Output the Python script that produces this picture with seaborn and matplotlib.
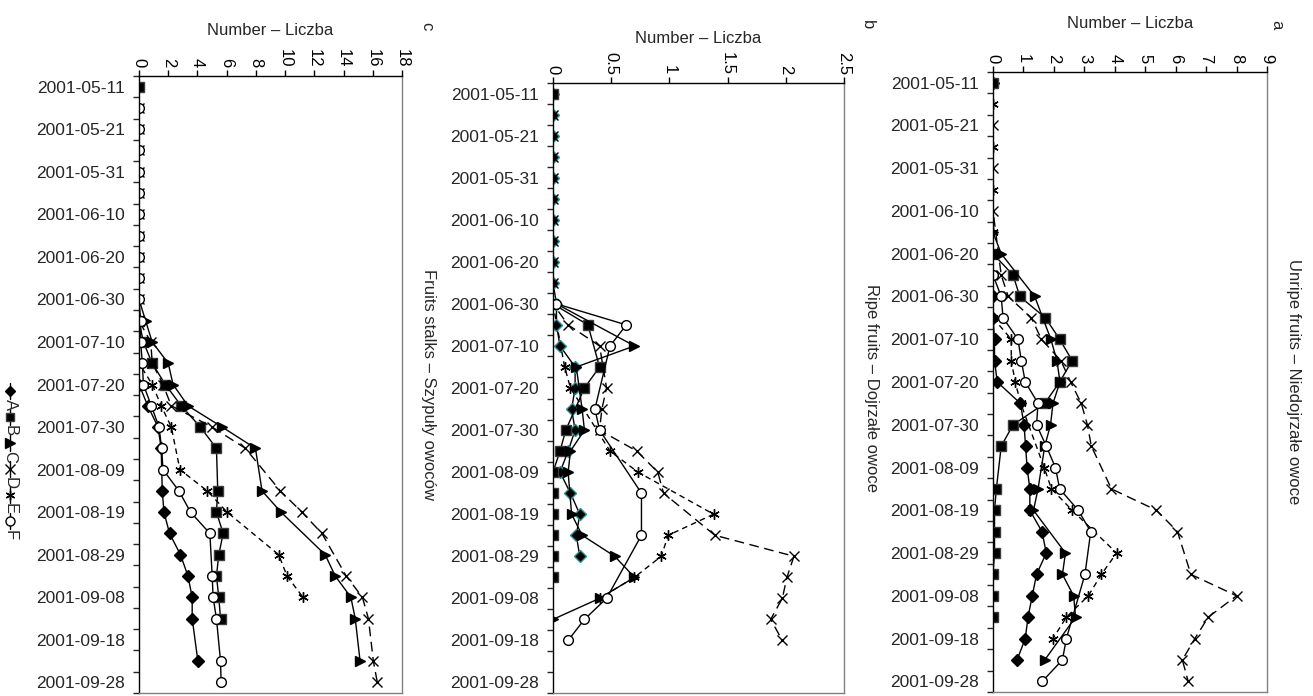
import numpy as np
import pandas as pd
import matplotlib
matplotlib.use("Agg")
import matplotlib.pyplot as plt
import seaborn as sns

nan = np.nan

# sampling dates: every 5 days
dates = pd.date_range("2001-05-11", "2001-09-28", freq="5D")
days = (dates - dates[0]).days.values
label_idx = list(range(0, len(dates), 2))
sites = ["A", "B", "C", "D", "E", "F"]

# a - unripe fruits
a_A = [0, nan, nan, nan, nan, nan, nan, nan, nan, nan, 0, 0, 0.05, 0.05, 0.14, 0.9, 1.02, 1.07, 1.12, 1.21, 1.21, 1.61, 1.75, 1.43, 1.29, 1.15, 1.06, 0.79, nan]
a_B = [0, nan, nan, nan, nan, nan, nan, nan, 0, 0.66, 0.88, 1.72, 2.19, 2.6, 2.19, 1.7, 0.66, 0.27, nan, 0.11, 0.05, 0.05, 0.05, 0, 0, 0, nan, nan, nan]
a_C = [nan, nan, nan, nan, nan, nan, nan, 0, 0.27, nan, 1.37, nan, 1.9, 2.1, 2.2, 1.97, 1.89, 1.7, nan, 1.48, 1.33, nan, 2.38, 2.28, 2.65, 2.71, nan, 1.7, nan]
a_D = [nan, nan, 0, nan, 0, nan, 0, nan, nan, 0.27, 0.5, 1.26, 1.59, 2.23, 2.55, 2.9, 3.1, 3.23, nan, 3.89, 5.37, 6.06, nan, 6.5, 8.0, 7.07, 6.63, 6.22, 6.41]
a_E = [nan, 0, nan, 0, nan, 0, nan, 0, 0, 0, nan, 0, 0.6, 0.6, 0.73, 0.91, nan, nan, 1.68, 1.92, 2.6, nan, 4.06, 3.56, 3.13, 2.41, 1.97, nan, nan]
a_F = [nan, nan, nan, nan, nan, nan, nan, nan, nan, 0, 0.27, 0.33, 0.82, 0.93, 1.06, 1.48, 1.43, 1.75, 2.05, 2.19, 2.8, 3.21, nan, 3.02, nan, nan, 2.41, 2.28, 1.62]

# b - ripe fruits
b_A = [0, 0, 0, 0, 0, 0, 0, 0, 0, 0, 0.03, 0.03, 0.06, 0.19, 0.19, 0.16, 0.19, 0.13, 0.06, 0.15, 0.23, 0.2, 0.23, nan, nan, nan, nan, nan, nan]
b_B = [0, nan, nan, nan, nan, nan, nan, nan, nan, nan, 0, 0.3, nan, 0.4, 0.27, nan, 0.11, 0.06, 0, 0, 0, 0, 0, 0, nan, nan, nan, nan, nan]
b_C = [nan, nan, nan, nan, nan, nan, nan, nan, nan, nan, 0.03, nan, 0.7, 0.2, nan, 0.25, 0.27, 0.15, 0.13, nan, 0.16, 0.25, 0.53, 0.7, 0.4, 0, nan, nan, nan]
b_D = [nan, 0, 0, 0, 0, 0, 0, 0, 0, 0, 0, 0.13, 0.4, nan, 0.46, 0.42, 0.4, 0.72, 0.9, 0.95, nan, 1.39, 2.07, 2.01, 1.97, 1.87, 1.97, nan, nan]
b_E = [nan, nan, nan, nan, nan, nan, nan, nan, nan, nan, 0, nan, nan, 0.1, 0.15, nan, nan, 0.49, 0.73, nan, 1.38, 0.99, 0.93, 0.7, 0.4, nan, nan, nan, nan]
b_F = [nan, nan, nan, nan, nan, nan, nan, nan, nan, nan, 0.03, 0.63, 0.49, nan, nan, 0.36, 0.4, nan, nan, 0.76, nan, 0.76, nan, nan, 0.46, 0.27, 0.13, nan, nan]

# c - fruit stalks
c_A = [nan, nan, nan, nan, nan, nan, nan, nan, nan, nan, nan, nan, nan, nan, 0, 0.6, 1.3, 1.52, nan, 1.59, 1.71, 2.09, 2.84, 3.35, 3.64, 3.64, nan, 4.03, nan]
c_B = [0, nan, nan, nan, nan, nan, nan, nan, nan, nan, nan, 0, 0.3, 0.9, 1.8, 2.89, 4.2, 5.3, nan, 5.39, 5.3, 5.76, 5.46, 5.3, 5.46, 5.58, nan, nan, nan]
c_C = [nan, nan, nan, nan, nan, nan, nan, nan, nan, nan, 0, 0.45, 0.9, 2.0, 2.33, 3.35, 5.69, 7.97, nan, 8.42, 9.72, nan, 12.74, 13.43, 14.5, 14.8, nan, 15.13, nan]
c_D = [nan, 0, 0, 0, 0, 0, 0, 0, 0, 0, 0, 0, 0.8, 0.91, 1.64, 2.21, 5.01, 7.28, nan, 9.67, 11.15, 12.52, nan, 14.18, 15.29, 15.7, nan, 16.04, 16.31]
c_E = [nan, nan, nan, nan, nan, nan, nan, nan, nan, nan, nan, 0, 0, 0, 0.91, 1.52, 2.21, nan, 2.8, 4.67, 6.03, nan, 9.56, 10.13, 11.22, nan, nan, nan, nan]
c_F = [nan, 0, 0, 0, 0, 0, 0, 0, 0, 0, 0, 0.11, 0.11, 0.23, 0.3, 0.84, 1.37, 1.55, 1.64, 2.73, 3.53, 4.85, nan, 5.01, 5.07, 5.3, nan, 5.58, 5.62]

# letter, title, series, x max, x step, box (px), xlabel pad, letter offset (px)
panels = [
    ("a", "Unripe fruits – Niedojrzałe owoce", [a_A, a_B, a_C, a_D, a_E, a_F], 9, 1, (993, 72, 1267, 692), 19, (10, 47)),
    ("b", "Ripe fruits – Dojrzałe owoce", [b_A, b_B, b_C, b_D, b_E, b_F], 2.5, 0.5, (553, 83, 844, 693), 6, (23, 58)),
    ("c", "Fruits stalks – Szypuły owoców", [c_A, c_B, c_C, c_D, c_E, c_F], 18, 2, (139, 76, 402, 693), 10, (25, 50)),
]

markers = {"A": "D", "B": "s", "C": ">", "D": "x", "E": (6, 2, 0), "F": "o"}
msize = {"A": 6, "B": 6.8, "C": 7.2, "D": 7, "E": 7.5, "F": 7}
styles = {"A": "-", "B": "-", "C": "-", "D": (0, (7, 4)), "E": (0, (4, 3)), "F": "-"}
faces = {"A": "black", "B": "black", "C": "black", "D": "black", "E": "black", "F": "white"}
edges = {"A": "black", "B": "#3c3c3c", "C": "black", "D": "black", "E": "black", "F": "black"}

sns.set_theme(style="white")
plt.rcParams["font.family"] = ["Liberation Sans", "DejaVu Sans"]

W, H = 1313, 696
fig = plt.figure(figsize=(W / 100, H / 100), dpi=100)


def add_axes_px(x0, y0, x1, y1):
    return fig.add_axes([x0 / W, 1 - y1 / H, (x1 - x0) / W, (y1 - y0) / H])


for letter, title, series, xmax, xstep, box, pad, loff in panels:
    ax = add_axes_px(*box)
    for site, vals in zip(sites, series):
        assert len(vals) == len(days)
        d = pd.DataFrame({"day": days, "n": vals}).dropna()
        edge = edges[site]
        if letter == "b" and site == "A":
            edge = "#2a9090"
        sns.lineplot(data=d, x="n", y="day", orient="y", ax=ax, errorbar=None,
                     color="black", linewidth=1, linestyle=styles[site],
                     marker=markers[site], markersize=msize[site],
                     markerfacecolor=faces[site], markeredgecolor=edge,
                     markeredgewidth=1, legend=False)

    ticks = np.arange(0, xmax + 1e-9, xstep)
    ax.set_xlim(0, xmax)
    ax.set_ylim(days[-1] + 2.5, -2.5)
    ax.set_xticks(ticks)
    ax.set_xticklabels([f"{v:g}" for v in ticks], rotation=-90)
    ax.xaxis.tick_top()
    ax.xaxis.set_label_position("top")
    ax.set_xlabel("Number – Liczba", fontsize=12, labelpad=pad)
    ax.set_ylabel("")
    ax.tick_params(axis="x", which="major", length=4, width=1, direction="out",
                   labelsize=12, pad=2, colors="black")

    ax.set_yticks(days[label_idx])
    ax.set_yticklabels([dates[i].strftime("%Y-%m-%d") for i in label_idx])
    ax.set_yticks(np.arange(-2.5, days[-1] + 3, 5), minor=True)
    ax.tick_params(axis="y", which="major", length=0, pad=10, labelsize=12.5)
    ax.tick_params(axis="y", which="minor", length=4, width=1, direction="out", left=True)

    for side in ["left", "top"]:
        ax.spines[side].set_color("black")
        ax.spines[side].set_linewidth(1)
    for side in ["right", "bottom"]:
        ax.spines[side].set_color("#808080")
        ax.spines[side].set_linewidth(1)

    ax.annotate(title, xy=(1, 0.5), xycoords="axes fraction", xytext=(27, 0),
                textcoords="offset pixels", rotation=270, ha="center", va="center",
                fontsize=12)
    ax.annotate(letter, xy=(1, 1), xycoords="axes fraction", xytext=loff,
                textcoords="offset pixels", rotation=270, ha="center", va="center",
                fontsize=12)

# legend, drawn rotated like the rest of the figure
lax = add_axes_px(0, 375, 30, 545)
lax.set_xlim(0, 30)
lax.set_ylim(545, 375)
lax.axis("off")
y = 383
for site in sites:
    lax.plot([10, 10], [y, y + 16], color="black", lw=1, linestyle="-")
    lax.plot([10], [y + 8], marker=markers[site], ms=msize[site] - 0.5, color="black",
             mfc=faces[site], mec=edges[site], mew=1)
    lax.text(10, y + 22, site, rotation=270, ha="center", va="center", fontsize=12)
    y += 26

fig.savefig("out.png", dpi=100)
